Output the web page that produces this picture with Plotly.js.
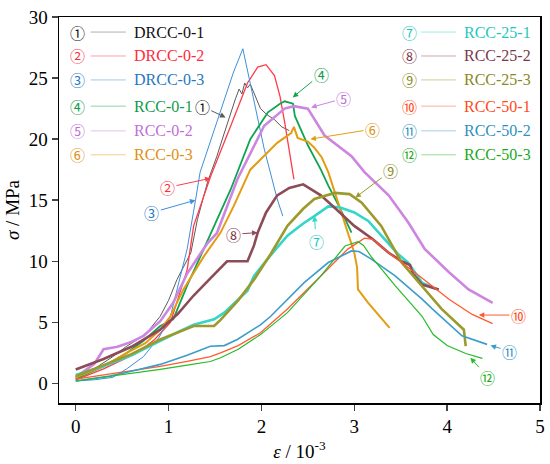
<!DOCTYPE html>
<html>
<head>
<meta charset="utf-8">
<script src="https://cdn.plot.ly/plotly-3.0.1.min.js"></script>
<style>html,body{margin:0;padding:0;background:#fff;}#chart{width:550px;height:464px;}</style>
</head>
<body>
<div id="chart"></div>
<script>
// ---- data (strain ε /10^-3, stress σ /MPa) ----
const names = ["DRCC-0-1","DRCC-0-2","DRCC-0-3","RCC-0-1","RCC-0-2","RCC-0-3",
               "RCC-25-1","RCC-25-2","RCC-25-3","RCC-50-1","RCC-50-2","RCC-50-3"];
const marks = ["①","②","③","④","⑤","⑥","⑦","⑧","⑨","⑩","⑪","⑫"];

const x1 = [0,0.2,0.4,0.55,0.75,0.91,1.0,1.09,1.24,1.31,1.42,1.52,1.6,1.67,1.72,1.76,1.79,1.82,1.85,1.88,1.92,1.99,2.06,2.14,2.22,2.3];
const y1 = [0.4,1.2,2.2,3.05,4.0,5.5,6.8,8.5,10.7,13.4,16.5,18.6,20.5,22.2,23.3,24.1,23.7,24.6,24.2,24.5,23.8,22.5,22.0,21.6,21.0,20.7];
const x2 = [0,0.3,0.66,0.85,1.02,1.2,1.27,1.45,1.67,1.85,1.96,2.05,2.14,2.2,2.25,2.3,2.35];
const y2 = [0.3,1.2,2.5,3.6,5.0,9.3,12.9,16.9,21.1,24.6,25.9,26.1,25.2,23.5,21.4,19.0,16.7];
const x3 = [0,0.2,0.4,0.55,0.73,0.9,1.02,1.2,1.29,1.34,1.52,1.7,1.8,1.89,2.03,2.17,2.23];
const y3 = [0.2,0.3,0.5,1.2,2.2,3.8,5.5,11.0,15.0,17.3,21.4,25.5,27.4,24.1,19.2,15.1,13.7];
const x4 = [0,0.3,0.55,0.73,0.91,1.05,1.2,1.45,1.67,1.88,2.07,2.2,2.25,2.34,2.36,2.5,2.64,2.72,2.85,2.97];
const y4 = [0.4,1.4,2.5,3.5,4.7,5.25,8.0,12.2,15.9,20.0,22.2,22.9,23.1,22.9,21.9,19.5,17.5,16.2,14.3,12.35];
const x5 = [0,0.2,0.3,0.45,0.6,0.73,0.91,1.05,1.2,1.42,1.52,1.74,2.03,2.25,2.35,2.5,2.68,2.85,2.97,3.11,3.37,3.58,3.76,4.02,4.23,4.49];
const y5 = [0.5,1.6,2.8,3.0,3.4,3.9,5.1,6.6,9.0,11.5,12.3,16.7,21.1,22.5,22.7,22.5,20.3,19.3,18.6,17.3,15.4,13.2,11.0,9.1,7.7,6.6];
const x6 = [0,0.3,0.55,0.75,0.91,1.02,1.16,1.38,1.56,1.7,1.88,2.05,2.17,2.32,2.35,2.39,2.5,2.57,2.65,2.72,2.86,3.0,3.03,3.04,3.15,3.38];
const y6 = [0.5,1.4,2.5,3.3,4.4,5.5,7.7,10.4,12.35,14.5,17.5,18.8,19.7,20.5,21.0,20.1,19.8,19.3,18.5,17.3,14.0,10.7,9.5,7.7,6.6,4.55];
const x7 = [0,0.3,0.6,0.91,1.1,1.27,1.49,1.6,1.85,1.92,2.1,2.28,2.45,2.57,2.72,2.85,3.0,3.15,3.29,3.47,3.58,3.73,3.89];
const y7 = [0.7,1.4,2.3,3.5,4.2,4.8,5.25,5.8,7.6,8.8,10.5,12.1,13.1,13.7,14.5,14.4,14.0,13.3,12.1,10.6,9.9,8.25,7.7];
const x8 = [0,0.3,0.6,0.91,1.1,1.27,1.45,1.63,1.85,1.92,1.96,2.05,2.17,2.3,2.45,2.64,2.8,3.0,3.2,3.37,3.51,3.6,3.63,3.73,3.91];
const y8 = [1.15,2.0,3.0,4.4,5.7,7.2,8.6,10.0,10.0,11.3,12.35,14.0,15.4,16.0,16.3,15.4,14.3,12.9,11.8,10.7,10.0,9.7,9.0,8.1,7.7];
const x9 = [0,0.3,0.6,0.91,1.1,1.27,1.49,1.56,1.75,1.92,2.1,2.28,2.45,2.57,2.79,2.95,3.08,3.29,3.51,3.73,3.94,4.18,4.2];
const y9 = [0.6,1.5,2.4,3.6,4.2,4.7,4.7,5.2,6.8,8.5,10.6,12.9,14.3,15.1,15.6,15.5,14.8,12.9,9.9,8.0,6.1,4.4,3.05];
const x10 = [0,0.3,0.6,0.91,1.2,1.45,1.56,1.75,1.99,2.28,2.64,2.93,3.11,3.2,3.37,3.65,4.02,4.27,4.49];
const y10 = [0.35,0.7,1.0,1.4,1.8,2.2,2.5,3.1,4.15,6.1,8.8,11.0,11.9,11.8,10.7,9.1,6.9,5.65,4.9];
const x11 = [0,0.37,0.6,0.91,1.2,1.45,1.6,1.74,1.99,2.1,2.46,2.72,2.97,3.05,3.18,3.44,3.73,3.84,4.16,4.43];
const y11 = [0.2,0.6,1.0,1.56,2.3,3.05,3.1,3.6,4.8,5.5,8.25,9.9,10.85,10.8,10.2,8.8,6.9,6.1,3.9,3.2];
const x12 = [0,0.3,0.6,0.91,1.2,1.45,1.56,1.75,1.99,2.28,2.64,2.9,3.04,3.1,3.18,3.44,3.73,3.85,4.0,4.2,4.38];
const y12 = [0.2,0.5,0.8,1.15,1.5,1.8,2.1,2.8,4.0,5.8,8.8,11.25,11.6,11.3,10.4,8.0,5.5,4.0,3.1,2.45,2.05];

// label arrow targets (head) and label positions (text), in data units
const headX = [1.614,1.452,1.289,2.337,2.535,2.528,2.571,1.958,3.012,4.341,4.467,4.25];
const headY = [21.78,16.8,15.0,23.42,22.6,20.0,13.71,12.35,15.22,5.6,3.11,2.1];
const textX = [1.362,0.989,0.82,2.644,2.889,3.196,2.589,1.698,3.394,4.767,4.673,4.439];
const textY = [22.68,16.04,13.99,25.33,23.34,20.82,11.66,12.21,17.4,5.6,2.65,0.52];

// ---- styles ----
const lineColors = ["#5a5a5a","#ff3b4a","#3d8fdc","#10a452","#cc86e0","#e49d12",
                    "#33d6c8","#8c4b57","#9c9a2c","#ff5a30","#3c9ccc","#26bb2a"];
const textColors = ["#111111","#ff2a3a","#1f78c4","#0f9a4a","#c070d8","#e09010",
                    "#22c8bc","#7a3848","#8a8820","#ff4a20","#2f90c0","#18aa20"];
const widths = [1,1.3,1,1.8,2.6,2,2.6,2.6,2.6,1.3,1.6,1.2];

const xs = [x1,x2,x3,x4,x5,x6,x7,x8,x9,x10,x11,x12];
const ys = [y1,y2,y3,y4,y5,y6,y7,y8,y9,y10,y11,y12];

const traces = xs.map((x,i)=>({
  x:x, y:ys[i], type:"scatter", mode:"lines", name:names[i],
  line:{color:lineColors[i], width:widths[i]}, showlegend:false
}));

const serif = "Liberation Serif";
const cjk = "Noto Sans CJK SC";

const annotations = [];
const shapes = [];

// arrow labels in plot
for (let i=0;i<12;i++){
  annotations.push({
    x:headX[i], y:headY[i], xref:"x", yref:"y",
    ax:textX[i], ay:textY[i], axref:"x", ayref:"y",
    text:marks[i], showarrow:true, arrowhead:2, arrowsize:1.1, arrowwidth:1,
    arrowcolor:lineColors[i], font:{family:cjk, size:15, color:textColors[i]},
    xanchor:"center", yanchor:"middle"
  });
}

// manual legend (two columns)
const rowY = [0.961,0.899,0.837,0.769,0.705,0.643];
const cols = [{m:0.0395, l0:0.066, l1:0.139, t:0.152},
              {m:0.728, l0:0.753, l1:0.825, t:0.838}];
for (let i=0;i<12;i++){
  const c = cols[i<6?0:1];
  const yy = rowY[i%6];
  annotations.push({x:c.m, y:yy, xref:"paper", yref:"paper", text:marks[i], showarrow:false,
    font:{family:cjk, size:15, color:textColors[i]}, xanchor:"center", yanchor:"middle"});
  annotations.push({x:c.t, y:yy, xref:"paper", yref:"paper", text:names[i], showarrow:false,
    font:{family:serif, size:16, color:textColors[i]}, xanchor:"left", yanchor:"middle"});
  shapes.push({type:"line", xref:"paper", yref:"paper", x0:c.l0, x1:c.l1, y0:yy, y1:yy,
    line:{color:lineColors[i], width:0.8}, opacity:0.6});
}

const layout = {
  width:550, height:464,
  margin:{l:59, r:10, t:17, b:61},
  paper_bgcolor:"#fff", plot_bgcolor:"#fff",
  font:{family:serif, size:18, color:"#000"},
  xaxis:{range:[-0.18,5.0], tickvals:[0,1,2,3,4,5], ticks:"outside", ticklen:6, tickwidth:1.5,
    showline:true, mirror:true, linewidth:1.5, linecolor:"#000", showgrid:false, zeroline:false,
    tickfont:{family:serif, size:19, color:"#000"},
    title:{text:"<i>ε</i> / 10<sup>-3</sup>", font:{family:serif, size:19, color:"#000"}, standoff:8}},
  yaxis:{range:[-1.6,30], tickvals:[0,5,10,15,20,25,30], ticks:"outside", ticklen:6, tickwidth:1.5,
    showline:true, mirror:true, linewidth:1.5, linecolor:"#000", showgrid:false, zeroline:false,
    tickfont:{family:serif, size:19, color:"#000"},
    title:{text:"<i>σ</i> / MPa", font:{family:serif, size:19, color:"#000"}, standoff:4}},
  annotations:annotations,
  shapes:shapes
};

Plotly.newPlot("chart", traces, layout, {displayModeBar:false, staticPlot:true});
</script>
</body>
</html>
